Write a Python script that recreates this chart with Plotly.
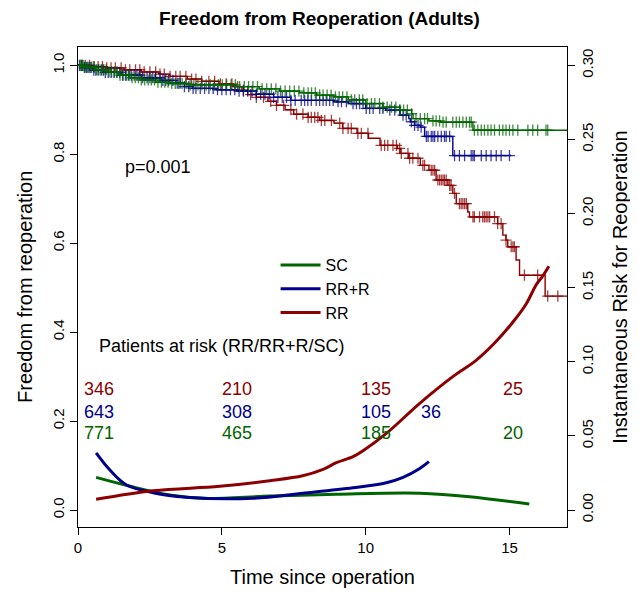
import numpy as np
import plotly.graph_objects as go

# ---------------- data ----------------
# Kaplan-Meier step data (event time, survival after the step)
rr_t = [0.5, 1.0, 1.6, 2.2, 2.8, 3.2, 3.8, 4.3, 4.9, 5.4, 5.7, 5.9, 6.2, 6.6, 6.9, 7.2, 7.5, 8.0, 8.4,
        8.9, 9.2, 9.7, 10.1, 10.5, 11.1, 11.2, 11.5, 11.9, 12.2, 12.45, 12.86, 13.03, 13.15, 13.55,
        13.61, 14.59, 14.77, 14.88, 14.94, 15.23, 15.35, 16.24]
rr_s = [0.997, 0.994, 0.990, 0.985, 0.980, 0.975, 0.969, 0.964, 0.958, 0.952, 0.944, 0.934, 0.928,
        0.919, 0.910, 0.900, 0.890, 0.883, 0.876, 0.870, 0.858, 0.847, 0.836, 0.820, 0.813, 0.802,
        0.791, 0.775, 0.764, 0.742, 0.730, 0.712, 0.689, 0.670, 0.659, 0.644, 0.618, 0.607, 0.592,
        0.562, 0.528, 0.481]
rr_end = 17.0
rr_cens = [0.12, 0.25, 0.4, 0.55, 0.7, 0.85, 1.0, 1.15, 1.3, 1.5, 1.65, 1.8, 2.0, 2.15, 2.3, 2.5, 2.7,
           2.85, 3.0, 3.2, 3.4, 3.55, 3.75, 3.95, 4.1, 4.3, 4.55, 4.75, 4.95, 5.15, 5.35, 5.55, 5.75,
           6.0, 6.2, 6.45, 6.7, 6.9, 7.15, 7.4, 7.6, 7.82, 8.0, 8.11, 8.23, 8.34, 8.46, 8.58, 8.81,
           9.10, 9.21, 9.39, 9.50, 9.73, 9.85, 10.08, 10.54, 10.66, 10.77, 10.95, 11.07, 11.18, 11.24,
           11.47, 11.53, 11.64, 11.82, 11.99, 12.05, 12.28, 12.34, 12.40, 12.51, 12.57, 12.63, 12.69,
           12.74, 12.80, 12.92, 12.97, 13.09, 13.26, 13.32, 13.38, 13.44, 13.50, 13.73, 13.78, 13.96,
           14.07, 14.13, 14.19, 14.25, 14.31, 14.48, 14.59, 14.71, 14.88, 15.06, 15.12, 15.17, 15.52,
           15.98, 16.33, 16.68]

rrr_t = [0.2, 0.5, 0.9, 1.5, 2.2, 2.9, 3.4, 3.7, 4.0, 4.8, 5.5, 6.2, 6.8, 7.4, 8.9, 9.4, 10.0, 10.7,
         11.2, 11.5, 11.55, 11.7, 11.9, 12.05, 13.03]
rrr_s = [0.995, 0.989, 0.984, 0.978, 0.972, 0.966, 0.960, 0.952, 0.948, 0.945, 0.942, 0.935, 0.928,
         0.921, 0.918, 0.914, 0.903, 0.899, 0.888, 0.880, 0.873, 0.865, 0.861, 0.840, 0.797]
rrr_end = 15.06
rrr_cens = [0.05, 0.15, 0.22, 0.3, 0.38, 0.45, 0.55, 0.62, 0.7, 0.8, 0.88, 0.95, 1.05, 1.15, 1.25, 1.35,
            1.45, 1.55, 1.65, 1.75, 1.85, 1.95, 2.05, 2.15, 2.25, 2.4, 2.5, 2.6, 2.7, 2.85, 2.95, 3.05,
            3.15, 3.3, 3.45, 3.55, 3.7, 3.85, 4.0, 4.1, 4.25, 4.4, 4.55, 4.7, 4.85, 5.0, 5.15, 5.3,
            5.45, 5.6, 5.75, 5.9, 6.05, 6.2, 6.35, 6.5, 6.65, 6.8, 6.95, 7.1, 7.25, 7.4, 7.55, 7.76,
            7.88, 7.99, 8.11, 8.28, 8.40, 8.52, 8.63, 8.75, 8.87, 9.04, 9.16, 9.33, 9.56, 9.68, 9.79,
            9.91, 10.02, 10.14, 10.26, 10.49, 10.60, 10.84, 11.01, 11.18, 11.30, 11.41, 11.59, 11.70,
            11.82, 11.93, 12.11, 12.17, 12.28, 12.34, 12.40, 12.51, 12.63, 12.74, 12.80, 12.92, 13.09,
            13.26, 13.44, 13.67, 13.73, 13.78, 14.02, 14.19, 14.36, 14.54, 14.71, 15.0]

sc_t = [0.2, 0.6, 1.0, 1.4, 1.8, 2.2, 2.7, 3.2, 3.8, 5.5, 6.3, 7.0, 7.7, 8.3, 8.9, 9.4, 10.0, 10.6,
        11.2, 11.6, 11.65, 12.2, 12.6, 13.73]
sc_s = [0.996, 0.990, 0.985, 0.978, 0.972, 0.967, 0.962, 0.959, 0.956, 0.952, 0.947, 0.942, 0.938,
        0.933, 0.929, 0.922, 0.914, 0.906, 0.899, 0.891, 0.880, 0.875, 0.872, 0.854]
sc_end = 17.0
sc_cens = [0.08, 0.12, 0.18, 0.26, 0.33, 0.41, 0.48, 0.57, 0.65, 0.73, 0.82, 0.9, 0.98, 1.08, 1.17,
           1.27, 1.36, 1.46, 1.57, 1.68, 1.78, 1.88, 1.99, 2.1, 2.2, 2.32, 2.44, 2.55, 2.66, 2.78, 2.9,
           3.02, 3.13, 3.26, 3.38, 3.5, 3.62, 3.76, 3.9, 4.03, 4.17, 4.31, 4.46, 4.6, 4.74, 4.88, 5.02,
           5.17, 5.32, 5.47, 5.62, 5.78, 5.93, 6.08, 6.24, 6.4, 6.56, 6.72, 6.88, 7.04, 7.2, 7.36,
           7.52, 7.68, 7.85, 8.0, 8.12, 8.25, 8.4, 8.52, 8.66, 8.8, 8.95, 9.08, 9.2, 9.35, 9.5, 9.62,
           9.78, 9.9, 10.05, 10.2, 10.32, 10.48, 10.6, 10.75, 10.9, 11.05, 11.2, 11.32, 11.45, 11.6,
           11.75, 11.9, 12.05, 12.15, 12.34, 12.45, 12.57, 12.69, 12.80, 13.03, 13.15, 13.26, 13.38,
           13.50, 13.61, 13.67, 13.78, 13.90, 14.02, 14.13, 14.25, 14.36, 14.48, 14.65, 14.77, 14.88,
           15.0, 15.12, 15.29, 15.64, 15.81, 15.98, 16.27, 16.33]

# Instantaneous hazard (right axis)
hz_rr_t = [0.63, 2.61, 4.93, 6.67, 7.81, 8.52, 8.98, 9.56, 9.91, 10.72, 11.88, 13.03, 13.84, 14.5,
           15.17, 15.58, 15.93, 16.16, 16.37]
hz_rr = [0.0072, 0.013, 0.016, 0.0198, 0.0231, 0.0274, 0.0319, 0.036, 0.040, 0.0517, 0.072, 0.090,
         0.101, 0.113, 0.128, 0.139, 0.152, 0.158, 0.1645]
hz_rrr_t = [0.63, 1.11, 1.69, 2.61, 3.77, 6.09, 7.82, 9.56, 10.72, 11.30, 11.88, 12.20]
hz_rrr = [0.0386, 0.027, 0.0169, 0.0117, 0.0086, 0.0079, 0.0113, 0.015, 0.0184, 0.022, 0.028, 0.0326]
hz_sc_t = [0.63, 1.81, 3.19, 4.35, 6.67, 8.98, 11.88, 13.61, 15.69]
hz_sc = [0.022, 0.016, 0.0101, 0.0079, 0.0094, 0.0106, 0.0113, 0.009, 0.004]

# numbers at risk
risk_times = [0.13, 4.93, 9.76, 14.72]
risk_rr = ["346", "210", "135", "25"]
risk_rrr_times = [0.13, 4.93, 9.76, 11.84]
risk_rrr = ["643", "308", "105", "36"]
risk_sc = ["771", "465", "185", "20"]

x_ticks = [0, 5, 10, 15]
y_ticks = [0.0, 0.2, 0.4, 0.6, 0.8, 1.0]
y2_ticks = [0.00, 0.05, 0.10, 0.15, 0.20, 0.25, 0.30]

RED = "#8B0000"
BLUE = "#00008B"
GREEN = "#006400"
FONT = "Liberation Sans, Arial, Helvetica, sans-serif"

fig = go.Figure()


def km(times, surv, end, cens, color, name):
    xs = [0] + list(times) + [end]
    ys = [1.0] + list(surv) + [surv[-1]]
    fig.add_trace(go.Scatter(x=xs, y=ys, mode="lines", line=dict(color=color, width=1.4, shape="hv"),
                             showlegend=False, hoverinfo="skip"))
    s_all = np.array([1.0] + list(surv))
    idx = np.searchsorted(np.array(times), np.array(cens), side="right")
    fig.add_trace(go.Scatter(x=cens, y=s_all[idx], mode="markers", showlegend=False,
                             marker=dict(symbol="cross-thin", size=8, opacity=0.75,
                                         line=dict(color=color, width=1.3)),
                             hoverinfo="skip"))


km(rr_t, rr_s, rr_end, rr_cens, RED, "RR")
km(rrr_t, rrr_s, rrr_end, rrr_cens, BLUE, "RR+R")
km(sc_t, sc_s, sc_end, sc_cens, GREEN, "SC")

for t, h, c, n, rank in [(hz_sc_t, hz_sc, GREEN, "SC", 1), (hz_rrr_t, hz_rrr, BLUE, "RR+R", 2),
                         (hz_rr_t, hz_rr, RED, "RR", 3)]:
    fig.add_trace(go.Scatter(x=t, y=h, yaxis="y2", mode="lines", name=n, legendrank=rank,
                             line=dict(color=c, width=3, shape="spline", smoothing=1.0)))

# annotations
ann = []
ann.append(dict(x=1.56, y=0.771, xref="x", yref="y", text="p=0.001", showarrow=False,
                xanchor="left", yanchor="middle", font=dict(size=18, color="black")))
ann.append(dict(x=0.66, y=0.369, xref="x", yref="y", text="Patients at risk (RR/RR+R/SC)",
                showarrow=False, xanchor="left", yanchor="middle", font=dict(size=18, color="black")))
for xt, lab in zip(risk_times, risk_rr):
    ann.append(dict(x=xt, y=0.272, xref="x", yref="y", text=lab, showarrow=False, xanchor="left",
                    yanchor="middle", font=dict(size=18, color=RED)))
for xt, lab in zip(risk_rrr_times, risk_rrr):
    ann.append(dict(x=xt, y=0.220, xref="x", yref="y", text=lab, showarrow=False, xanchor="left",
                    yanchor="middle", font=dict(size=18, color=BLUE)))
for xt, lab in zip(risk_times, risk_sc):
    ann.append(dict(x=xt, y=0.173, xref="x", yref="y", text=lab, showarrow=False, xanchor="left",
                    yanchor="middle", font=dict(size=18, color=GREEN)))
# titles
ann.append(dict(x=0.493, y=1.0598, xref="paper", yref="paper", text="<b>Freedom from Reoperation (Adults)</b>",
                showarrow=False, xanchor="center", yanchor="middle", font=dict(size=19, color="black")))
ann.append(dict(x=0.5, y=-0.104, xref="paper", yref="paper", text="Time since operation",
                showarrow=False, xanchor="center", yanchor="middle", font=dict(size=20, color="black")))
ann.append(dict(x=-0.1084, y=0.5, xref="paper", yref="paper", text="Freedom from reoperation",
                showarrow=False, xanchor="center", yanchor="middle", textangle=-90,
                font=dict(size=20, color="black")))
ann.append(dict(x=1.108, y=0.5, xref="paper", yref="paper", text="Instantaneous Risk for Reoperation",
                showarrow=False, xanchor="center", yanchor="middle", textangle=-90,
                font=dict(size=20, color="black")))

# the page body adds an 8px offset, so the figure is 8px smaller with margins reduced accordingly
fig.update_layout(
    width=630, height=584,
    margin=dict(l=70, r=71, t=39, b=65, autoexpand=False),
    paper_bgcolor="white", plot_bgcolor="white",
    font=dict(family=FONT, size=14, color="black"),
    annotations=ann,
    showlegend=True,
    legend=dict(x=0.404, y=0.581, xanchor="left", yanchor="top", bgcolor="rgba(0,0,0,0)",
                font=dict(size=16), itemwidth=40, tracegroupgap=0),
    xaxis=dict(range=[0, 17], tickvals=x_ticks, ticktext=[str(v) for v in x_ticks], ticks="outside",
               ticklen=7, tickwidth=1, tickcolor="black", showline=True, linecolor="black", linewidth=1.3,
               mirror=True, showgrid=False, zeroline=False, tickfont=dict(size=15)),
    yaxis=dict(range=[-0.0382, 1.0411], tickvals=y_ticks, ticktext=["%.1f" % v for v in y_ticks],
               ticks="outside", ticklen=7, tickwidth=1, tickcolor="black", showline=True, linecolor="black",
               linewidth=1.3, mirror=True, showgrid=False, zeroline=False, tickangle=-90,
               tickfont=dict(size=15)),
    yaxis2=dict(range=[-0.01146, 0.3124], tickvals=y2_ticks, ticktext=["%.2f" % v for v in y2_ticks],
                overlaying="y", side="right", ticks="outside", ticklen=7, tickwidth=1, tickcolor="black",
                showline=False, showgrid=False, zeroline=False, tickangle=-90, tickfont=dict(size=15)),
)

fig.write_html("out.html")
